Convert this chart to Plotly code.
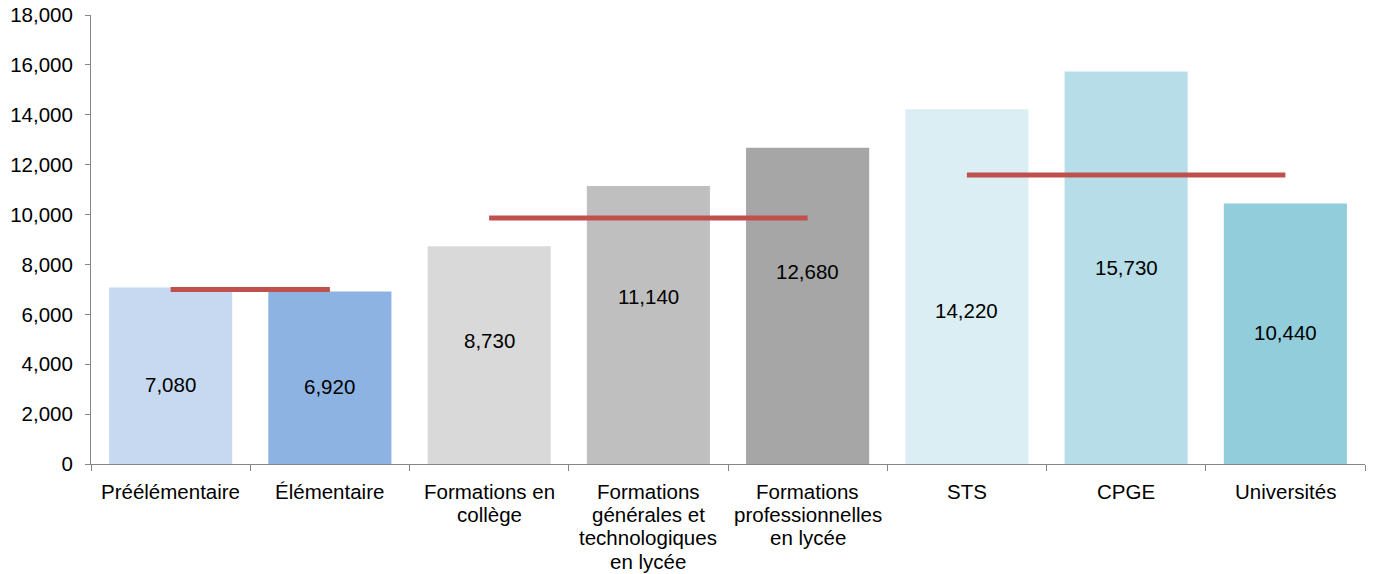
import plotly.graph_objects as go

# Dépense moyenne par élève / étudiant selon le niveau
categories = [
    "Préélémentaire",
    "Élémentaire",
    "Formations en<br>collège",
    "Formations<br>générales et<br>technologiques<br>en lycée",
    "Formations<br>professionnelles<br>en lycée",
    "STS",
    "CPGE",
    "Universités",
]
values = [7080, 6920, 8730, 11140, 12680, 14220, 15730, 10440]
bar_colors = ["#C6D9F1", "#8DB3E2", "#D9D9D9", "#BFBFBF", "#A6A6A6",
              "#DBEEF4", "#B7DEE8", "#92CDDC"]

# Moyennes par degré (premier degré, second degré, supérieur)
avg_groups = [
    ([categories[0], categories[1]], 7000),
    ([categories[2], categories[4]], 9860),
    ([categories[5], categories[7]], 11590),
]

# Hauteur (en unités de l'axe) où chaque étiquette de valeur est posée
label_y = [3170, 3090, 4970, 6700, 7700, 6170, 7860, 5290]

FONT = "Liberation Sans, Arial, sans-serif"
fs = 20.5
LINE_H = 23.4

fig = go.Figure()
fig.add_trace(go.Bar(
    x=categories,
    y=values,
    marker=dict(color=bar_colors, line=dict(width=0)),
    hoverinfo="x+y",
    showlegend=False,
))

for cats, avg in avg_groups:
    fig.add_trace(go.Scatter(
        x=cats,
        y=[avg, avg],
        mode="lines",
        line=dict(color="#C0504D", width=5),
        showlegend=False,
        hoverinfo="y",
    ))

annotations = []
# Étiquettes de valeur dans les barres
for cat, val, ly in zip(categories, values, label_y):
    annotations.append(dict(
        x=cat, y=ly, xref="x", yref="y",
        text=f"{val:,}",
        showarrow=False,
        xanchor="center", yanchor="middle",
        font=dict(family=FONT, size=fs, color="#000000"),
    ))
# Libellés de catégories, ligne par ligne (interligne serré)
for cat in categories:
    for i, line in enumerate(cat.split("<br>")):
        annotations.append(dict(
            x=cat, y=0, xref="x", yref="paper",
            text=line,
            showarrow=False,
            xanchor="center", yanchor="middle",
            yshift=-(27 + i * LINE_H),
            font=dict(family=FONT, size=fs, color="#000000"),
        ))

fig.update_layout(
    width=1373,
    height=574,
    margin=dict(l=91, r=8, t=15, b=110),
    paper_bgcolor="white",
    plot_bgcolor="white",
    bargap=0.227,
    font=dict(family=FONT, size=fs, color="#000000"),
    showlegend=False,
    annotations=annotations,
)
fig.update_xaxes(
    type="category",
    categoryorder="array",
    categoryarray=categories,
    showline=True,
    linecolor="#868686",
    linewidth=1,
    ticks="outside",
    tickson="boundaries",
    ticklen=6,
    tickcolor="#868686",
    showgrid=False,
    showticklabels=False,
    automargin=False,
)
fig.update_yaxes(
    range=[0, 18000],
    dtick=2000,
    tickformat=",",
    showline=True,
    linecolor="#868686",
    linewidth=1,
    ticks="outside",
    ticklen=5,
    tickcolor="#868686",
    showgrid=False,
    zeroline=False,
    ticklabelstandoff=8,
    automargin=False,
    tickfont=dict(family=FONT, size=fs, color="#000000"),
)

fig.write_html("out.html")
